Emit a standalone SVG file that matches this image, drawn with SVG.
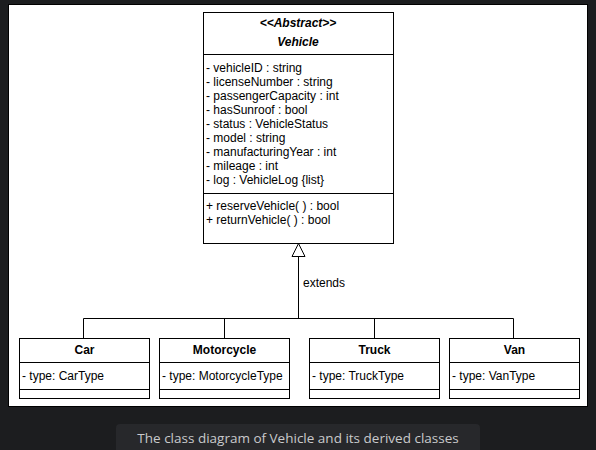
<svg xmlns="http://www.w3.org/2000/svg" width="596" height="450" viewBox="0 0 596 450">
<style>
.box{fill:#ffffff;stroke:#000000;stroke-width:1}
.ln{stroke:#000000;stroke-width:1;fill:none}
text{font-family:"Liberation Sans",Arial,sans-serif;font-size:12px;fill:#000000}
.t{font-weight:bold;text-anchor:middle}
.bi{font-weight:bold;font-style:italic;text-anchor:middle}
.cap{font-family:"Open Sans","Noto Sans",sans-serif;font-size:13.5px;fill:#c9cacc;text-anchor:middle}
</style>
<rect x="0" y="0" width="596" height="450" fill="#1c1d1f"/>
<rect x="8.5" y="4.5" width="579" height="402" fill="#ffffff" stroke="#000000" stroke-width="1"/>
<rect x="116" y="424" width="364" height="30" rx="4" fill="#27282b"/>
<text class="cap" x="298" y="443">The class diagram of Vehicle and its derived classes</text>

<g id="connectors">
<path class="ln" d="M298.5 256 V318.5 M83.5 338 V318.5 H513.5 V338 M224.5 318.5 V338 M374.5 318.5 V338"/>
<path d="M298.5 243.5 L305 256.5 L292 256.5 Z" fill="#ffffff" stroke="#000000" stroke-width="1"/>
<text x="303" y="287">extends</text>
</g>

<g id="vehicle">
<rect class="box" x="203.5" y="12.5" width="190" height="231"/>
<line class="ln" x1="203.5" y1="54.5" x2="393.5" y2="54.5"/>
<line class="ln" x1="203.5" y1="193.5" x2="393.5" y2="193.5"/>
<text class="bi" x="298" y="27">&lt;&lt;Abstract&gt;&gt;</text>
<text class="bi" x="298" y="46">Vehicle</text>
<text x="206" y="72">- vehicleID : string</text>
<text x="206" y="86">- licenseNumber : string</text>
<text x="206" y="100">- passengerCapacity : int</text>
<text x="206" y="114">- hasSunroof : bool</text>
<text x="206" y="128">- status : VehicleStatus</text>
<text x="206" y="142">- model : string</text>
<text x="206" y="156">- manufacturingYear : int</text>
<text x="206" y="170">- mileage : int</text>
<text x="206" y="184">- log : VehicleLog {list}</text>
<text x="206" y="210">+ reserveVehicle( ) : bool</text>
<text x="206" y="224">+ returnVehicle( ) : bool</text>
</g>

<g id="car">
<rect class="box" x="19.5" y="338.5" width="130" height="60"/>
<line class="ln" x1="19.5" y1="362.5" x2="149.5" y2="362.5"/>
<line class="ln" x1="19.5" y1="389.5" x2="149.5" y2="389.5"/>
<text class="t" x="84.5" y="354">Car</text>
<text x="22" y="380">- type: CarType</text>
</g>

<g id="motorcycle">
<rect class="box" x="159.5" y="338.5" width="130" height="60"/>
<line class="ln" x1="159.5" y1="362.5" x2="289.5" y2="362.5"/>
<line class="ln" x1="159.5" y1="389.5" x2="289.5" y2="389.5"/>
<text class="t" x="224.5" y="354">Motorcycle</text>
<text x="162" y="380">- type: MotorcycleType</text>
</g>

<g id="truck">
<rect class="box" x="309.5" y="338.5" width="130" height="60"/>
<line class="ln" x1="309.5" y1="362.5" x2="439.5" y2="362.5"/>
<line class="ln" x1="309.5" y1="389.5" x2="439.5" y2="389.5"/>
<text class="t" x="374.5" y="354">Truck</text>
<text x="312" y="380">- type: TruckType</text>
</g>

<g id="van">
<rect class="box" x="449.5" y="338.5" width="130" height="60"/>
<line class="ln" x1="449.5" y1="362.5" x2="579.5" y2="362.5"/>
<line class="ln" x1="449.5" y1="389.5" x2="579.5" y2="389.5"/>
<text class="t" x="514.5" y="354">Van</text>
<text x="452" y="380">- type: VanType</text>
</g>
</svg>
